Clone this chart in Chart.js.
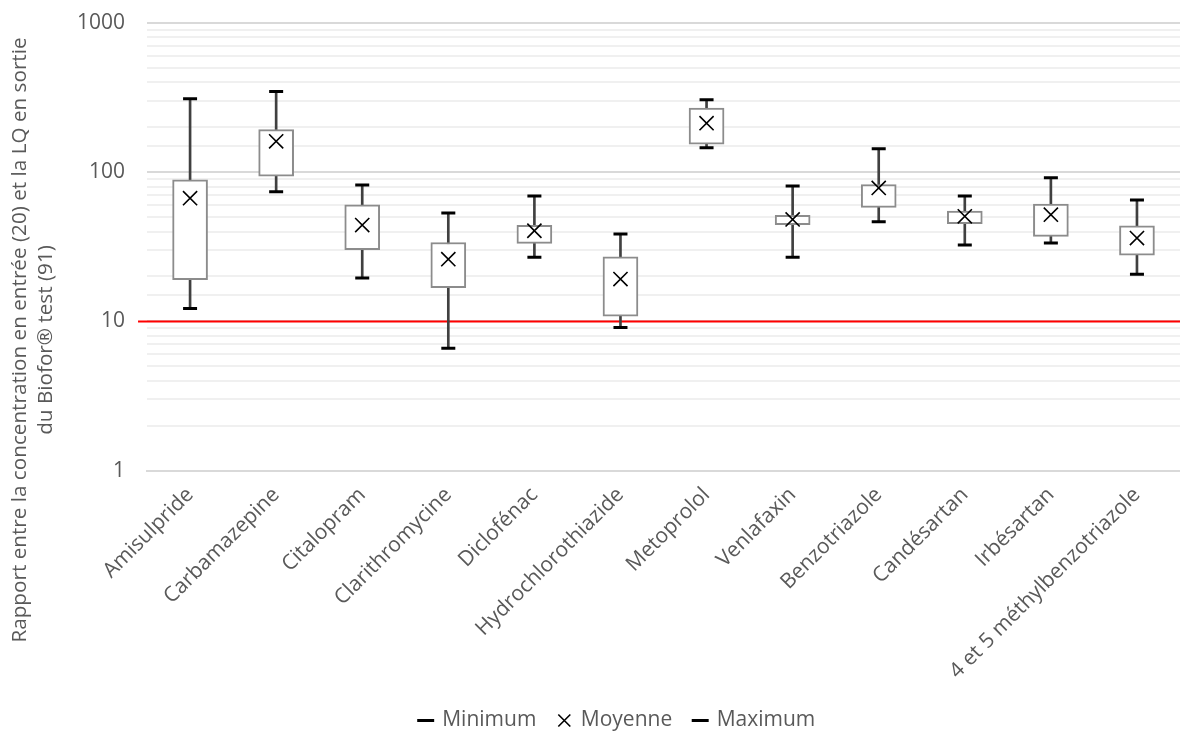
<!DOCTYPE html>
<html>
<head>
<meta charset="utf-8">
<title>Rapport concentration / LQ</title>
<script src="https://cdn.jsdelivr.net/npm/chart.js@4.4.1/dist/chart.umd.min.js"></script>
<style>
  html, body { margin: 0; padding: 0; background: #fff; }
  #wrap { width: 1180px; height: 731px; }
</style>
</head>
<body>
<div id="wrap"><canvas id="boxChart"></canvas></div>
<script>
// categories (molécules)
const categories = ['Amisulpride', 'Carbamazepine', 'Citalopram', 'Clarithromycine', 'Diclofénac',
  'Hydrochlorothiazide', 'Metoprolol', 'Venlafaxin', 'Benzotriazole', 'Candésartan',
  'Irbésartan', '4 et 5 méthylbenzotriazole'];

// valeurs
const minimum = [12.2, 74, 19.5, 6.6, 26.9, 9.1, 146, 26.9, 46.5, 32.5, 33.5, 20.7];
const q1      = [19.0, 94, 30.2, 16.8, 33.3, 10.85, 154, 44.4, 58.1, 45.1, 37.1, 27.8];
const moyenne = [67, 161, 44.2, 26.1, 40.5, 19.2, 213, 48.2, 78.4, 50.6, 51.9, 36.2];
const q3      = [88.8, 193, 60.5, 33.8, 44.0, 27.1, 269, 51.3, 82.6, 54.9, 61.2, 43.7];
const maximum = [311, 347, 82.2, 53.2, 69.3, 38.5, 306, 80.9, 143.5, 69.3, 91.6, 65.1];

const seuil = 10;
const yTitle = ['Rapport entre la concentration en entrée (20) et la LQ en sortie',
  'du Biofor® test (91)'];

Chart.defaults.font.family = "'Open Sans', sans-serif";
Chart.defaults.font.size = 21;
Chart.defaults.color = '#595959';

// ligne rouge a 10 + titre de l'axe y
const extras = {
  id: 'extras',
  beforeDatasetsDraw(chart) {
    const ctx = chart.ctx;
    const a = chart.chartArea;
    const y = Math.round(chart.scales.y.getPixelForValue(seuil)) + 0.5;
    ctx.save();
    ctx.strokeStyle = '#ff0000';
    ctx.lineWidth = 2;
    ctx.beginPath();
    ctx.moveTo(a.left - 9, y);
    ctx.lineTo(a.right, y);
    ctx.stroke();
    ctx.restore();
  },
  afterDraw(chart) {
    const ctx = chart.ctx;
    ctx.save();
    ctx.fillStyle = '#595959';
    ctx.font = "20.7px 'Open Sans', sans-serif";
    ctx.textAlign = 'center';
    ctx.textBaseline = 'middle';
    ctx.translate(0, 340);
    ctx.rotate(-Math.PI / 2);
    ctx.fillText(yTitle[0], 0, 20);
    ctx.fillText(yTitle[1], 0, 46);
    ctx.restore();
  }
};

new Chart(document.getElementById('boxChart'), {
  type: 'bar',
  data: {
    labels: categories,
    datasets: [
      {
        type: 'line', label: 'Minimum', data: minimum, showLine: false,
        pointStyle: 'line', pointRadius: 7, pointBorderWidth: 3,
        borderColor: '#000', backgroundColor: '#000', borderWidth: 3
      },
      {
        type: 'line', label: 'Moyenne', data: moyenne, showLine: false,
        pointStyle: 'crossRot', pointRadius: 10, pointBorderWidth: 1.6,
        borderColor: '#000', backgroundColor: '#000', borderWidth: 1.6
      },
      {
        type: 'line', label: 'Maximum', data: maximum, showLine: false,
        pointStyle: 'line', pointRadius: 7, pointBorderWidth: 3,
        borderColor: '#000', backgroundColor: '#000', borderWidth: 3
      },
      {
        label: 'boite', data: categories.map((c, i) => [q1[i], q3[i]]),
        backgroundColor: '#ffffff', borderColor: '#8c8c8c', borderWidth: 2,
        borderSkipped: false, barThickness: 35, grouped: false
      },
      {
        label: 'moustache', data: categories.map((c, i) => [minimum[i], maximum[i]]),
        backgroundColor: '#404040', borderWidth: 0,
        barThickness: 2, grouped: false
      }
    ]
  },
  options: {
    responsive: true,
    maintainAspectRatio: false,
    animation: false,
    events: [],
    layout: { autoPadding: false, padding: { left: 55, top: 23, right: 0, bottom: -10 } },
    scales: {
      x: {
        grid: { display: false },
        border: { color: '#d9d9d9', width: 2 },
        ticks: { minRotation: 45, maxRotation: 45, padding: 4, autoSkip: false }
      },
      y: {
        type: 'logarithmic',
        min: 1,
        max: 1000,
        border: { display: false },
        afterFit: s => { s.paddingTop = 0; s.paddingBottom = 0; },
        grid: {
          drawTicks: false,
          color: ctx => {
            const v = ctx.tick ? ctx.tick.value : 0;
            const l = Math.log10(v);
            return Math.abs(l - Math.round(l)) < 1e-9 ? '#d9d9d9' : '#f0f0f0';
          },
          lineWidth: 2
        },
        ticks: {
          autoSkip: false,
          padding: 22,
          callback: v => {
            const l = Math.log10(v);
            return Math.abs(l - Math.round(l)) < 1e-9 ? String(v) : '';
          }
        }
      }
    },
    plugins: {
      tooltip: { enabled: false },
      legend: {
        position: 'bottom',
        labels: {
          usePointStyle: true,
          boxWidth: 12,
          boxHeight: 12,
          padding: 22,
          filter: item => item.datasetIndex < 3
        }
      }
    }
  },
  plugins: [extras]
});
</script>
</body>
</html>
